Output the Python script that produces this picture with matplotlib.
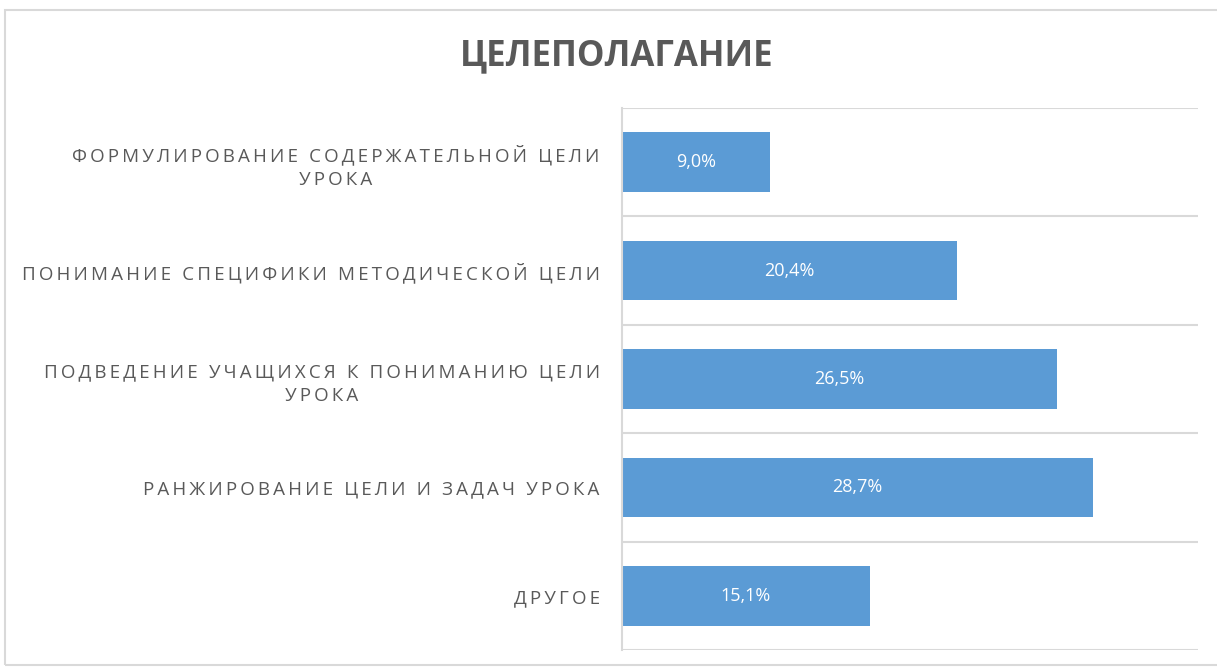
import matplotlib
matplotlib.use('Agg')
import matplotlib.pyplot as plt
from matplotlib.patches import Rectangle

categories = [
    'ФОРМУЛИРОВАНИЕ СОДЕРЖАТЕЛЬНОЙ ЦЕЛИ\nУРОКА',
    'ПОНИМАНИЕ СПЕЦИФИКИ МЕТОДИЧЕСКОЙ ЦЕЛИ',
    'ПОДВЕДЕНИЕ УЧАЩИХСЯ К ПОНИМАНИЮ ЦЕЛИ\nУРОКА',
    'РАНЖИРОВАНИЕ ЦЕЛИ И ЗАДАЧ УРОКА',
    'ДРУГОЕ',
]
values = [9.0, 20.4, 26.5, 28.7, 15.1]
title = 'ЦЕЛЕПОЛАГАНИЕ'

bar_color = '#5b9bd5'
text_color = '#595959'
grid_color = '#d9d9d9'
fonts = ['Open Sans', 'DejaVu Sans']


def spaced(s, sp='\u2009'):
    # imitate the letter spacing of the original
    return '\n'.join(sp.join(line) for line in s.split('\n'))


fig = plt.figure(figsize=(12.17, 6.71), dpi=100)
fig.patches.append(Rectangle((5 / 1217, 6 / 671), 1.2, 655 / 671, transform=fig.transFigure,
                             fill=False, edgecolor=grid_color, lw=1.5))

ax = fig.add_axes([622 / 1217, 21 / 671, 576 / 1217, 542 / 671])
y = list(range(len(categories)))
ax.barh(y, values, height=0.55, color=bar_color)
ax.set_ylim(len(categories) - 0.5, -0.5)
ax.set_xlim(0, 35.1)

for i, v in zip(y, values):
    ax.text(v / 2, i, f'{v:.1f}%'.replace('.', ','), ha='center', va='center',
            color='white', fontsize=13, family=fonts)

for b in [k - 0.5 for k in range(len(categories) + 1)]:
    ax.axhline(b, color=grid_color, lw=1.5, zorder=0)

ax.set_yticks(y)
ax.set_yticklabels([spaced(c) for c in categories], family=fonts, fontsize=13.5,
                   color=text_color, multialignment='center', linespacing=1.4)
ax.tick_params(axis='y', length=0, pad=16)
ax.set_xticks([])
for s in ['top', 'right', 'bottom']:
    ax.spines[s].set_visible(False)
ax.spines['left'].set_color(grid_color)
ax.spines['left'].set_linewidth(1.5)

fig.text(617 / 1217, 1 - 56 / 671, title, ha='center', va='center',
         fontsize=25, fontweight='bold', color=text_color, family=fonts)

fig.savefig('out.png', dpi=100)
